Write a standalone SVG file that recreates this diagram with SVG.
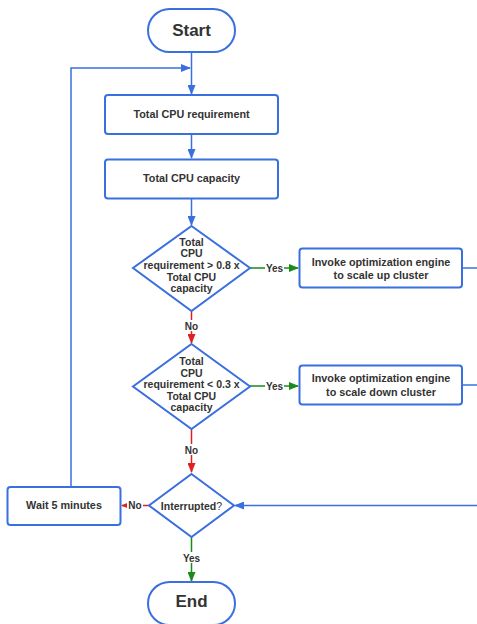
<svg xmlns="http://www.w3.org/2000/svg" width="477" height="624" viewBox="0 0 477 624">
<style>
.n{fill:#fff;stroke:#3a6fe0;stroke-width:2}
.t{font-family:"Liberation Sans",Arial,sans-serif;font-weight:bold;fill:#333;text-anchor:middle}
.b{font-size:10.8px}
.d{font-size:10.5px}
.big{font-size:17px}
.lb{font-family:"Liberation Sans",Arial,sans-serif;font-weight:bold;fill:#333;font-size:10px;text-anchor:middle}
.cb{fill:none;stroke:#3a6fe0;stroke-width:1.5}
.cg{fill:none;stroke:#1a8a1a;stroke-width:1.5}
.cr{fill:none;stroke:#e02020;stroke-width:1.5}
.bg{fill:#fff}
</style>
<defs>
<marker id="ab" markerWidth="10" markerHeight="8" refX="9" refY="4" orient="auto" markerUnits="userSpaceOnUse"><path d="M0,0 L10,4 L0,8 z" fill="#3a6fe0"/></marker>
<marker id="ag" markerWidth="10" markerHeight="8" refX="9" refY="4" orient="auto" markerUnits="userSpaceOnUse"><path d="M0,0 L10,4 L0,8 z" fill="#1a8a1a"/></marker>
<marker id="ar" markerWidth="10" markerHeight="8" refX="9" refY="4" orient="auto" markerUnits="userSpaceOnUse"><path d="M0,0 L10,4 L0,8 z" fill="#e02020"/></marker>
</defs>
<g id="connectors">
<path class="cb" d="M191.5,52 V94" marker-end="url(#ab)"/>
<path class="cb" d="M71,487 V68 H190" marker-end="url(#ab)"/>
<path class="cb" d="M191.5,134 V158" marker-end="url(#ab)"/>
<path class="cb" d="M191.5,198 V225" marker-end="url(#ab)"/>
<path class="cg" d="M250,268 H298" marker-end="url(#ag)"/>
<rect class="bg" x="265" y="262" width="19" height="11"/>
<text class="lb" x="274.5" y="271.5">Yes</text>
<path class="cb" d="M462,268 H477"/>
<path class="cr" d="M191.5,311 V343" marker-end="url(#ar)"/>
<rect class="bg" x="183" y="320" width="17" height="11"/>
<text class="lb" x="191.5" y="329.5">No</text>
<path class="cg" d="M250,386 H298" marker-end="url(#ag)"/>
<rect class="bg" x="265" y="380" width="19" height="11"/>
<text class="lb" x="274.5" y="389.5">Yes</text>
<path class="cb" d="M462,385 H477"/>
<path class="cr" d="M191.5,429 V472" marker-end="url(#ar)"/>
<rect class="bg" x="183" y="444" width="17" height="11"/>
<text class="lb" x="191.5" y="453.5">No</text>
<path class="cr" d="M149,505.5 H122" marker-end="url(#ar)"/>
<rect class="bg" x="127" y="500" width="16" height="11"/>
<text class="lb" x="135" y="509">No</text>
<path class="cb" d="M477,505.5 H235" marker-end="url(#ab)"/>
<path class="cg" d="M191.5,537 V581" marker-end="url(#ag)"/>
<rect class="bg" x="182" y="552" width="19" height="11"/>
<text class="lb" x="191.5" y="561.5">Yes</text>
</g>
<g id="start">
<rect class="n" x="148" y="9" width="87" height="43" rx="21.5"/>
<text class="t big" x="191.5" y="36">Start</text>
</g>
<g id="cpu-requirement">
<rect class="n" x="105" y="95" width="173" height="39" rx="3"/>
<text class="t b" x="191.5" y="117.5">Total CPU requirement</text>
</g>
<g id="cpu-capacity">
<rect class="n" x="105" y="159.5" width="173" height="39" rx="3"/>
<text class="t b" x="191.5" y="182">Total CPU capacity</text>
</g>
<g id="decision-up">
<path class="n" d="M191.5,226 L250,268 L191.5,311 L133,268 Z"/>
<text class="t d" x="191.5" y="245.5">Total</text>
<text class="t d" x="191.5" y="257">CPU</text>
<text class="t d" x="191.5" y="269">requirement &gt; 0.8 x</text>
<text class="t d" x="191.5" y="280.5">Total CPU</text>
<text class="t d" x="191.5" y="292">capacity</text>
</g>
<g id="scale-up">
<rect class="n" x="299.5" y="248.5" width="162.5" height="39" rx="3"/>
<text class="t b" x="381" y="265.5">Invoke optimization engine</text>
<text class="t b" x="381" y="278.5">to scale up cluster</text>
</g>
<g id="decision-down">
<path class="n" d="M191.5,344 L250,386.5 L191.5,429 L133,386.5 Z"/>
<text class="t d" x="191.5" y="365">Total</text>
<text class="t d" x="191.5" y="376.5">CPU</text>
<text class="t d" x="191.5" y="388">requirement &lt; 0.3 x</text>
<text class="t d" x="191.5" y="399.5">Total CPU</text>
<text class="t d" x="191.5" y="411">capacity</text>
</g>
<g id="scale-down">
<rect class="n" x="299.5" y="365.5" width="162.5" height="39" rx="3"/>
<text class="t b" x="381" y="382">Invoke optimization engine</text>
<text class="t b" x="381" y="395.5">to scale down cluster</text>
</g>
<g id="interrupted">
<path class="n" d="M191.5,474 L234,505.5 L191.5,537 L149,505.5 Z"/>
<text class="t d" x="191.5" y="509.5">Interrupted<tspan font-weight="normal">?</tspan></text>
</g>
<g id="wait">
<rect class="n" x="7.5" y="487" width="113" height="38" rx="3"/>
<text class="t b" x="64" y="509">Wait 5 minutes</text>
</g>
<g id="end">
<rect class="n" x="148" y="582" width="87" height="43" rx="21.5"/>
<text class="t big" x="191.5" y="607">End</text>
</g>
</svg>
